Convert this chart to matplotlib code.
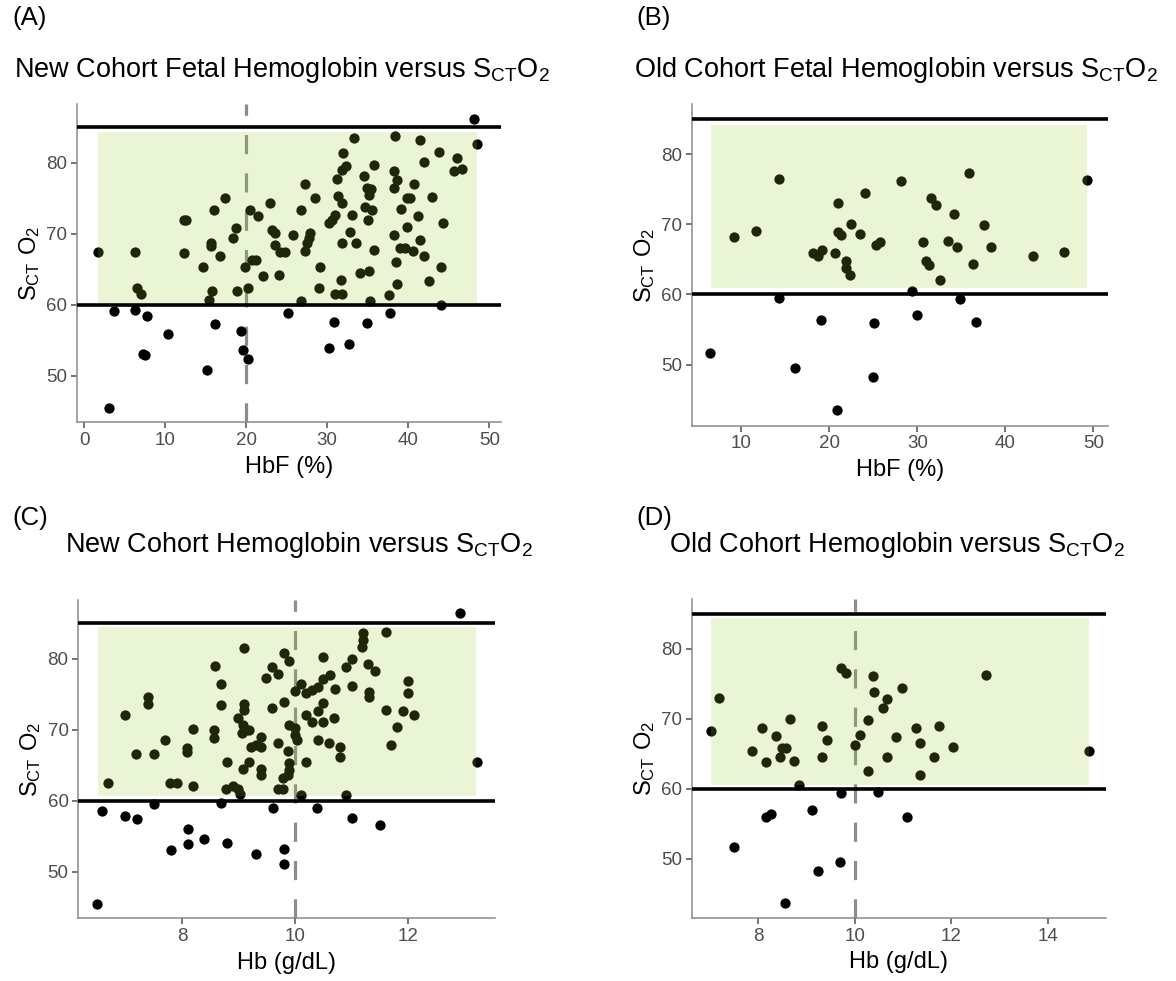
import matplotlib
matplotlib.use("Agg")
import matplotlib.pyplot as plt
from matplotlib.patches import Rectangle

plt.rcParams['font.family'] = ['Liberation Sans', 'DejaVu Sans']
plt.rcParams['mathtext.fontset'] = 'custom'
plt.rcParams['mathtext.rm'] = 'Liberation Sans'

# (A) new cohort, HbF vs SctO2
hbf_new = [1.7, 6.2, 6.5, 7.0, 12.3, 12.6, 12.3, 14.6, 15.6, 15.7, 15.4, 15.8, 16.0, 16.8,
           17.4, 18.4, 18.7, 18.8, 19.8, 20.2, 20.5, 20.7, 21.2, 21.5, 22.1, 22.9, 23.2, 23.6,
           23.5, 24.1, 24.2, 24.8, 25.8, 26.7, 26.8, 27.2, 27.3, 27.5, 27.7, 27.9, 28.5, 29.1,
           29.0, 48.1, 48.5, 33.3, 38.4, 41.4, 31.9, 43.8, 46.0, 41.9, 32.3, 31.8, 31.2, 35.8,
           34.5, 38.2, 38.6, 38.3, 45.7, 46.6, 40.7, 34.9, 35.4, 35.1, 31.3, 31.8, 39.8, 40.2,
           42.9, 34.7, 35.5, 39.1, 31.0, 30.6, 30.2, 33.0, 35.0, 41.2, 39.8, 44.3, 32.8, 31.8,
           33.5, 38.2, 41.4, 35.8, 39.0, 39.6, 40.6, 42.0, 38.5, 44.0, 34.1, 35.2, 31.7, 42.5,
           38.6, 31.0, 31.8, 37.6, 35.3, 44.0, 30.8, 34.9, 37.8, 30.2, 32.7, 3.7, 6.2, 7.7,
           10.3, 7.2, 7.5, 16.1, 15.2, 19.4, 19.6, 20.2, 25.2, 3.1]
sct_a = [67.4, 67.5, 62.4, 61.5, 71.9, 71.9, 67.3, 65.3, 68.7, 68.3, 60.7, 62.0, 73.4, 66.9,
         75.1, 69.4, 70.9, 61.9, 65.3, 62.4, 73.4, 66.3, 66.3, 72.5, 64.1, 74.4, 70.5, 70.2,
         68.5, 64.2, 67.4, 67.4, 69.9, 73.4, 60.6, 77.1, 67.6, 68.7, 69.4, 70.2, 75.0, 65.4,
         62.4, 86.2, 82.7, 83.5, 83.8, 83.2, 81.4, 81.5, 80.7, 80.2, 79.6, 79.0, 77.8, 79.7,
         78.1, 78.8, 77.6, 76.5, 78.8, 79.1, 77.1, 76.4, 76.3, 75.5, 75.4, 74.3, 75.0, 75.0,
         75.2, 73.8, 73.4, 73.5, 72.7, 72.0, 71.5, 72.7, 71.9, 72.5, 71.0, 71.5, 70.3, 68.7,
         68.7, 69.9, 69.2, 67.8, 68.0, 68.0, 67.6, 66.9, 66.1, 65.3, 64.5, 64.8, 63.5, 63.4,
         62.9, 61.5, 61.5, 61.4, 60.6, 60.0, 57.6, 57.4, 58.9, 53.9, 54.5, 59.2, 59.3, 58.5,
         55.9, 53.1, 52.9, 57.3, 50.9, 56.3, 53.7, 52.4, 58.8, 45.5]

# (B) old cohort, HbF vs SctO2
hbf_old = [9.1, 11.7, 14.3, 14.3, 6.4, 16.1, 19.0, 21.0, 18.1, 18.7, 19.2, 20.6, 21.0, 21.3,
           22.5, 24.0, 23.5, 21.9, 21.9, 22.3, 25.3, 25.8, 25.1, 25.0, 20.9, 28.1, 35.9, 49.3,
           31.5, 32.1, 34.2, 37.6, 30.6, 33.5, 34.5, 38.3, 31.0, 31.3, 36.3, 43.1, 46.7, 32.6,
           29.4, 34.8, 30.0, 36.7]
sct_b = [68.2, 69.0, 76.5, 59.5, 51.6, 49.5, 56.4, 73.0, 65.9, 65.5, 66.3, 65.9, 68.9, 68.5,
         70.0, 74.4, 68.6, 64.7, 63.7, 62.7, 67.0, 67.5, 56.0, 48.3, 43.6, 76.2, 77.3, 76.3,
         73.7, 72.7, 71.4, 69.9, 67.4, 67.6, 66.8, 66.7, 64.7, 64.2, 64.4, 65.5, 66.0, 62.0,
         60.5, 59.3, 57.1, 56.1]

# (C) new cohort, Hb vs SctO2
hb_new = [9.09, 8.59, 9.80, 9.89, 8.69, 9.59, 9.70, 9.49, 7.39, 7.39, 8.69, 6.99, 10.0, 10.1,
          10.2, 10.3, 10.4, 9.09, 9.09, 9.59, 9.80, 8.99, 9.07, 9.13, 9.19, 9.06, 10.2, 10.29,
          9.89, 9.99, 9.99, 10.03, 8.19, 8.57, 8.57, 7.69, 7.18, 7.50, 8.08, 8.08, 9.40, 9.31,
          9.40, 9.22, 9.70, 9.87, 10.2, 8.80, 9.19, 9.07, 9.40, 9.40, 9.89, 9.89,
          6.69, 7.79, 7.91, 8.19, 8.78, 8.90, 8.99, 9.02, 9.70, 9.79, 9.78, 9.87, 10.11, 10.9,
          13.21, 6.59, 6.99, 7.20, 7.50, 8.69, 9.60, 10.39, 11.0, 11.5, 8.10, 8.10, 8.38, 7.80,
          8.80, 9.30, 9.80, 9.80, 6.49, 12.92, 11.2, 11.2, 11.19, 11.6, 10.49, 11.0, 10.9, 11.29,
          11.41, 12.0, 12.0, 10.61, 10.49, 10.7, 11.0, 11.3, 11.3, 10.49, 10.4, 10.49, 10.69,
          11.6, 11.91, 12.1, 11.8, 10.4, 10.6, 10.79, 10.8, 11.7]
sct_c = [81.5, 79.0, 80.8, 79.7, 76.4, 78.9, 77.9, 77.3, 74.6, 73.6, 73.5, 72.1, 75.4, 76.5,
         75.1, 75.6, 76.0, 73.6, 72.8, 73.0, 73.9, 71.6, 70.7, 70.0, 70.0, 69.5, 72.1, 71.1,
         70.7, 70.2, 69.2, 68.5, 70.1, 70.0, 68.8, 68.5, 66.6, 66.6, 67.4, 66.9, 69.0, 67.8,
         67.5, 67.5, 68.1, 67.0, 65.5, 65.5, 65.5, 64.4, 64.4, 63.6, 65.3, 64.3,
         62.5, 62.5, 62.5, 62.1, 61.6, 62.1, 61.6, 61.0, 61.6, 61.6, 63.2, 63.6, 60.8, 60.8,
         65.4, 58.6, 57.8, 57.4, 59.5, 59.6, 59.0, 59.0, 57.5, 56.6, 56.0, 53.9, 54.6, 53.1,
         54.0, 52.5, 53.2, 51.0, 45.5, 86.4, 83.6, 82.6, 81.6, 83.8, 80.3, 79.9, 78.9, 79.3,
         78.2, 76.9, 75.2, 77.7, 77.2, 75.8, 76.1, 75.3, 74.6, 73.7, 72.7, 71.1, 71.7,
         72.8, 72.6, 72.1, 70.4, 68.5, 68.1, 67.5, 66.2, 67.8]

# (D) old cohort, Hb vs SctO2
hb_old = [7.02, 7.19, 7.87, 8.08, 8.16, 8.36, 8.45, 8.48, 8.57, 8.65, 8.74, 8.85, 9.32, 9.43,
          9.32, 9.71, 9.81, 10.0, 10.1, 10.28, 10.28, 10.38, 10.4, 10.67, 10.59, 10.67, 10.97,
          10.86, 9.71, 10.48, 8.16, 8.26, 9.12, 7.49, 9.24, 9.70, 8.55, 12.71, 11.26, 11.74,
          11.35, 12.04, 11.64, 11.35, 14.84, 11.07]
sct_d = [68.2, 73.0, 65.4, 68.7, 63.8, 67.6, 64.6, 65.8, 65.8, 70.0, 64.0, 60.5, 69.0, 67.0,
         64.6, 77.2, 76.5, 66.3, 67.7, 69.9, 62.6, 76.1, 73.8, 72.8, 71.5, 64.5, 74.4,
         67.4, 59.4, 59.6, 56.0, 56.4, 57.0, 51.7, 48.3, 49.5, 43.7, 76.3, 68.7, 69.0,
         66.6, 66.0, 64.6, 62.0, 65.4, 56.0]

# shaded target range per panel: x0, x1, y0, y1
rect_a = (1.7, 48.5, 60.3, 84.3)
rect_b = (6.5, 49.3, 60.9, 84.1)
rect_c = (6.52, 13.2, 60.7, 84.5)
rect_d = (7.02, 14.84, 60.6, 84.4)

title_a = r'New Cohort Fetal Hemoglobin versus $\mathregular{S_{CT}O_2}$'
title_b = r'Old Cohort Fetal Hemoglobin versus $\mathregular{S_{CT}O_2}$'
title_c = r'New Cohort Hemoglobin versus $\mathregular{S_{CT}O_2}$'
title_d = r'Old Cohort Hemoglobin versus $\mathregular{S_{CT}O_2}$'
ylab = r'$\mathregular{S_{CT}\ O_2}$'

fig = plt.figure(figsize=(11.76, 9.81), dpi=100)

W, H = 1176.0, 981.0


def make_axes(x0, x1, ytop, ybot):
    return fig.add_axes([x0 / W, 1 - ybot / H, (x1 - x0) / W, (ybot - ytop) / H])


def panel(ax, x, y, rect, vline, xlim, ylim, xticks, xlabel):
    ax.plot(x, y, 'o', color='black', ms=7.4, mew=0, zorder=3)
    if vline is not None:
        ax.axvline(vline, color='#8c8c8c', lw=2.3, dashes=(6, 6), zorder=2)
    ax.add_patch(Rectangle((rect[0], rect[2]), rect[1] - rect[0], rect[3] - rect[2],
                           facecolor='yellowgreen', alpha=0.2, lw=0, zorder=4))
    ax.axhline(60, color='black', lw=2.6, zorder=5)
    ax.axhline(85, color='black', lw=2.6, zorder=5)
    ax.set_xlim(*xlim)
    ax.set_ylim(*ylim)
    ax.set_xticks(xticks)
    ax.set_yticks([50, 60, 70, 80])
    for s in ['top', 'right']:
        ax.spines[s].set_visible(False)
    for s in ['left', 'bottom']:
        ax.spines[s].set_color('#8a8a8a')
        ax.spines[s].set_linewidth(1.1)
    ax.tick_params(colors='#4d4d4d', labelsize=13.5, length=4, width=1.1, pad=3)
    ax.set_xlabel(xlabel, fontsize=17, labelpad=5)
    ax.set_ylabel(ylab, fontsize=17, labelpad=3)


ax_a = make_axes(77, 500.6, 104, 422.4)
panel(ax_a, hbf_new, sct_a, rect_a, 20, (-0.9, 51.4), (43.46, 88.3), [0, 10, 20, 30, 40, 50], 'HbF (%)')
ax_b = make_axes(691.7, 1108, 104.2, 425.7)
panel(ax_b, hbf_old, sct_b, rect_b, None, (4.35, 51.65), (41.3, 87.1), [10, 20, 30, 40, 50], 'HbF (%)')
ax_c = make_axes(78.3, 495, 599.8, 918)
panel(ax_c, hb_new, sct_c, rect_c, 10, (6.165, 13.535), (43.46, 88.3), [8, 10, 12], 'Hb (g/dL)')
ax_d = make_axes(691.7, 1106, 599, 917.8)
panel(ax_d, hb_old, sct_d, rect_d, 10, (6.62, 15.2), (41.6, 87.1), [8, 10, 12, 14], 'Hb (g/dL)')

# panel letters and titles
fig.text(12 / W, 1 - 18 / H, '(A)', fontsize=18.5, va='center', ha='left')
fig.text(636 / W, 1 - 18 / H, '(B)', fontsize=18.5, va='center', ha='left')
fig.text(12 / W, 1 - 518 / H, '(C)', fontsize=18.5, va='center', ha='left')
fig.text(636 / W, 1 - 518 / H, '(D)', fontsize=18.5, va='center', ha='left')
fig.text(14 / W, 1 - 70 / H, title_a, fontsize=19.5, va='center', ha='left')
fig.text(634 / W, 1 - 70 / H, title_b, fontsize=19.5, va='center', ha='left')
fig.text(65 / W, 1 - 545 / H, title_c, fontsize=19.5, va='center', ha='left')
fig.text(669 / W, 1 - 545 / H, title_d, fontsize=19.5, va='center', ha='left')

fig.savefig('out.png', dpi=100)
